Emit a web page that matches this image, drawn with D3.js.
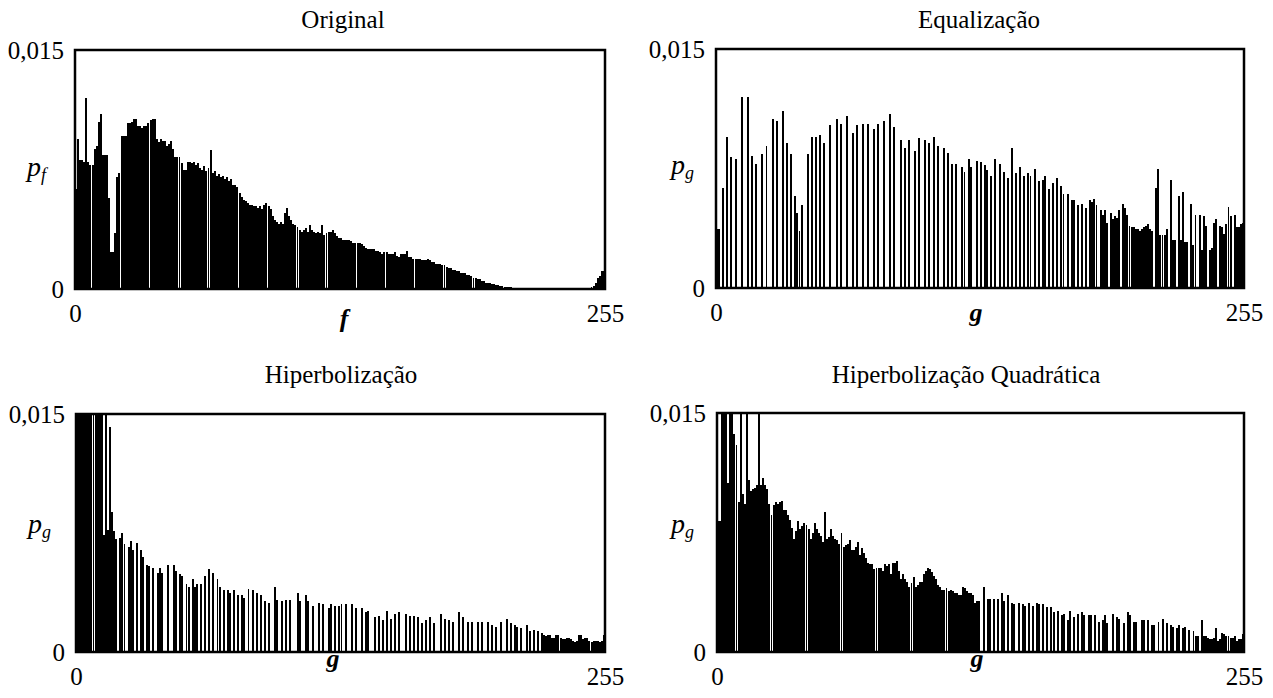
<!DOCTYPE html>
<html>
<head>
<meta charset="utf-8">
<script src="https://cdn.jsdelivr.net/npm/d3@7"></script>
<style>
  body { margin: 0; background: #fff; }
  text { font-family: "Liberation Serif", "DejaVu Serif", serif; fill: #000; }
</style>
</head>
<body>
<svg id="chart" width="1273" height="698"></svg>
<script>
// probabilities are written in units of 1e-3
const UNIT = 1e-3;

const titles = ["Original", "Equalização", "Hiperbolização", "Hiperbolização Quadrática"];
const xNames = ["f", "g", "g", "g"];
const yTickVals = [0, 0.015];
const xTickVals = [0, 255];

// Original: one value per grey level 0..255
const origP = [
  6.3, 9.4, 8.1, 8.1, 8.0, 12.0, 8.0, 7.8, 7.8, 8.8, 9.0, 10.5, 11.0, 8.4, 8.4, 8.4,
  5.7, 2.3, 2.3, 3.5, 7.0, 7.3, 9.6, 9.6, 9.6, 10.4, 10.4, 10.5, 10.7, 10.7, 10.2, 10.2,
  10.1, 10.2, 10.2, 10.4, 10.6, 10.7, 10.7, 9.4, 9.2, 9.4, 9.3, 9.3, 9.0, 9.1, 9.3, 8.8,
  8.3, 8.3, 8.3, 7.9, 7.5, 7.5, 8.0, 8.0, 7.9, 8.0, 7.8, 7.9, 7.6, 7.5, 7.7, 7.4,
  7.6, 8.7, 7.3, 7.4, 7.1, 7.2, 7.0, 7.1, 6.9, 7.0, 6.8, 6.9, 6.5, 6.5, 6.4, 6.0,
  5.8, 5.6, 5.5, 5.4, 5.3, 5.3, 5.2, 5.2, 5.1, 5.2, 5.0, 5.3, 5.4, 5.2, 5.0, 4.6,
  4.3, 4.2, 4.1, 4.2, 4.1, 4.8, 5.1, 4.6, 4.3, 4.1, 4.0, 3.9, 3.7, 3.6, 3.7, 3.8,
  3.6, 4.0, 3.7, 3.6, 3.5, 3.6, 3.5, 4.0, 3.4, 3.5, 3.6, 3.6, 3.7, 3.5, 3.3, 3.2,
  3.2, 3.1, 3.1, 3.1, 3.1, 3.0, 2.9, 2.9, 2.9, 2.9, 2.8, 2.7, 2.6, 2.5, 2.5, 2.5,
  2.5, 2.4, 2.4, 2.3, 2.2, 2.3, 2.3, 2.2, 2.2, 2.2, 2.3, 2.1, 2.0, 2.2, 2.2, 2.2,
  2.4, 2.0, 2.0, 1.9, 1.9, 1.9, 1.9, 1.8, 1.8, 1.8, 1.9, 1.8, 1.7, 1.7, 1.6, 1.6,
  1.6, 1.5, 1.5, 1.4, 1.3, 1.3, 1.2, 1.2, 1.1, 1.1, 1.0, 1.0, 1.0, 0.9, 0.9, 0.8,
  0.7, 0.7, 0.6, 0.6, 0.5, 0.5, 0.4, 0.4, 0.35, 0.3, 0.3, 0.25, 0.25, 0.2, 0.2, 0.15,
  0.15, 0.12, 0.1, 0.08, 0.03, 0.03, 0.03, 0.03, 0.03, 0, 0, 0, 0, 0, 0, 0,
  0, 0, 0, 0, 0, 0, 0, 0, 0, 0, 0, 0, 0, 0, 0, 0,
  0, 0, 0, 0, 0, 0, 0, 0, 0.05, 0.1, 0.2, 0.4, 0.7, 0.8, 1.1, 1.1
];

// Equalização: only occupied levels
const eqBins = [
  0, 1, 3, 5, 7, 9, 12, 15, 17, 19, 22, 24, 27, 29, 32, 34, 36, 38, 39, 40, 41,
  44, 46, 48, 50, 52, 55, 58, 60, 63, 66, 68, 71, 73, 76, 78, 81, 84, 86, 89, 91,
  93, 96, 98, 101, 103, 105, 107, 110, 112, 114, 116, 119, 120, 122, 123, 126, 128,
  130, 131, 133, 135, 137, 139, 141, 143, 145, 147, 149, 151, 152, 154, 156, 158,
  159, 161, 163, 165, 167, 168, 170, 172, 173, 175, 177, 179, 181, 182, 183, 184,
  186, 187, 188, 189, 191, 192, 193, 194, 195, 197, 198, 199, 200, 201, 202, 203,
  204, 205, 206, 207, 208, 209, 210, 211, 213, 214, 215, 216, 217, 218, 220, 221,
  222, 224, 225, 226, 227, 228, 230, 231, 232, 234, 235, 236, 237, 239, 240, 241,
  242, 244, 245, 246, 247, 248, 249, 251, 252, 253, 254, 255
];
const eqP = [
  3.7, 3.7, 6.3, 9.5, 8.2, 8.1, 12.0, 12.0, 8.3, 7.8, 8.4, 8.9, 10.6, 10.5, 11.1, 9.1, 8.4, 5.8, 4.7, 3.6, 5.2,
  8.4, 9.5, 9.5, 9.6, 9.1, 10.2, 10.6, 10.3, 10.8, 9.7, 10.2, 10.3, 10.3, 10.0, 10.3, 10.5, 10.9, 10.1, 9.3, 8.8,
  9.3, 8.6, 9.4, 9.3, 9.1, 9.5, 8.9, 8.8, 8.5, 7.8, 7.8, 7.6, 7.3, 8.1, 7.6, 8.0, 7.9,
  7.7, 7.4, 7.0, 8.1, 7.8, 7.3, 6.9, 8.8, 7.2, 7.6, 7.0, 7.2, 7.0, 7.5, 6.7, 6.8,
  7.0, 6.2, 6.6, 6.9, 6.4, 5.9, 5.9, 5.5, 5.5, 5.2, 5.3, 5.0, 5.5, 5.4, 5.6, 5.2,
  4.9, 4.6, 4.9, 4.1, 4.7, 4.3, 4.5, 4.4, 4.9, 5.3, 5.0, 4.6, 3.9, 3.8, 3.8, 3.7,
  3.7, 3.6, 3.7, 3.8, 3.9, 4.0, 3.7, 3.6, 6.3, 7.5, 3.3, 3.3, 3.3, 3.7, 6.8, 3.0,
  3.0, 5.8, 3.0, 6.0, 2.9, 2.9, 5.3, 2.7, 4.6, 4.6, 2.4, 4.5, 3.9, 2.4, 2.5, 4.1,
  4.3, 3.9, 3.8, 3.4, 4.0, 5.1, 4.5, 4.6, 3.8, 3.8, 4.0, 4.1
];

// Hiperbolização: only occupied levels (first levels run off the top)
const hypBins = [
  0, 1, 2, 3, 4, 5, 6, 7, 8, 9, 10, 11, 12, 13, 14, 15, 16, 17, 18, 19, 21, 22, 23,
  25, 26, 27, 29, 31, 32, 34, 35, 37, 39, 40, 41, 44, 47, 48, 50, 51, 53, 54, 56,
  57, 58, 60, 62, 64, 66, 68, 69, 71, 73, 74, 76, 78, 80, 81, 83, 85, 87, 89, 91,
  93, 96, 97, 99, 101, 103, 107, 108, 111, 112, 114, 117, 119, 122, 123, 125, 127,
  128, 130, 133, 135, 138, 140, 141, 144, 146, 148, 150, 152, 154, 156, 159, 161,
  163, 165, 167, 169, 171, 173, 176, 178, 180, 182, 185, 187, 189, 191, 194, 196,
  199, 201, 203, 205, 208, 210, 212, 213, 215, 218, 219, 221, 223, 225, 226, 227,
  228, 229, 230, 231, 232, 233, 234, 235, 236, 237, 238, 239, 240, 241, 242, 243,
  244, 245, 246, 247, 248, 249, 250, 251, 252, 253, 254, 255
];
const hypP = [
  16, 16, 16, 16, 16, 16, 16, 16, 16, 16, 16, 16, 16, 7.4, 16, 7.7, 14.2, 8.8, 7.6, 7.1, 7.2, 7.5, 6.8,
  6.6, 7.0, 6.4, 6.9, 6.4, 6.0, 5.5, 5.4, 5.3, 5.0, 5.3, 5.0, 5.5, 5.5, 5.1, 4.9, 4.8, 4.3, 4.1, 4.6,
  4.1, 4.3, 4.3, 4.8, 5.2, 5.0, 4.6, 4.1, 3.9, 3.9, 3.7, 3.9, 3.6, 3.6, 3.4, 4.0, 3.9, 3.7, 3.6, 3.2,
  3.1, 4.1, 3.3, 3.2, 3.3, 3.3, 3.7, 3.2, 3.6, 3.2, 2.9, 3.1, 3.0, 2.8, 3.0, 2.9, 2.9,
  3.0, 3.0, 3.0, 2.8, 2.8, 2.5, 2.6, 2.2, 2.3, 2.0, 2.6, 2.1, 2.4, 2.5, 2.4, 2.3,
  2.3, 2.2, 1.8, 2.0, 2.2, 1.8, 2.4, 2.1, 2.0, 1.9, 2.5, 2.2, 1.9, 1.9, 1.9, 1.9,
  1.9, 1.7, 1.6, 1.9, 2.1, 1.8, 1.7, 1.6, 1.5, 1.7, 1.3, 1.4, 1.3, 1.2, 1.1, 1.0,
  1.1, 1.1, 0.9, 0.9, 1.1, 1.1, 0.9, 0.8, 0.8, 0.9, 0.9, 0.8, 0.7, 0.6, 0.7, 1.1,
  1.1, 0.8, 0.9, 0.9, 0.7, 0.6, 0.7, 0.7, 0.7, 0.6, 0.7, 1.1
];

// Hiperbolização Quadrática: one value per level 0..255
const quadP = [
  8.2, 8.2, 16, 16, 16, 10.6, 16, 16, 13.7, 13.0, 9.4, 16, 9.9, 9.3, 16, 10.8,
  10.1, 10.2, 10.3, 10.5, 16, 10.5, 10.9, 10.5, 10.2, 9.3, 8.6, 9.2, 9.4, 9.3, 9.4, 9.5,
  8.9, 8.9, 8.6, 8.3, 7.8, 7.1, 7.6, 8.2, 7.7, 7.9, 8.1, 8.0, 7.7, 7.1, 7.5, 8.1,
  7.7, 7.5, 7.3, 6.9, 8.8, 7.1, 7.2, 7.7, 7.3, 7.1, 7.0, 6.8, 7.5, 6.6, 6.7, 6.8,
  7.0, 6.4, 6.4, 6.6, 6.9, 6.1, 6.5, 6.2, 5.9, 5.6, 5.5, 5.5, 5.2, 5.3, 5.3, 5.3,
  5.1, 5.5, 5.4, 5.5, 4.9, 5.6, 5.6, 5.7, 5.1, 4.6, 4.9, 4.6, 4.4, 4.1, 4.3, 4.7,
  4.1, 4.2, 4.4, 4.4, 4.9, 5.1, 5.3, 5.2, 5.0, 4.8, 4.6, 4.2, 4.1, 3.9, 3.9, 4.0,
  3.8, 3.9, 3.8, 3.7, 3.7, 3.6, 3.6, 4.1, 4.0, 3.8, 3.7, 3.7, 3.6, 3.1, 3.2, 3.2,
  0, 4.1, 0, 3.3, 3.3, 0, 3.3, 0, 3.3, 0, 3.7, 3.2, 0, 3.6, 0, 3.1,
  3.0, 0, 3.1, 0, 3.0, 2.9, 0, 3.1, 0, 2.9, 0, 3.1, 3.0, 0, 3.0, 0,
  2.8, 0, 2.8, 2.5, 0, 2.6, 0, 2.3, 2.4, 0, 2.0, 2.6, 0, 2.2, 0, 2.4,
  0, 2.5, 2.3, 0, 2.3, 2.3, 0, 2.3, 0, 1.9, 0, 2.0, 2.3, 1.8, 0, 0,
  2.4, 0, 2.2, 2.1, 0, 1.8, 0, 2.5, 2.3, 0, 1.9, 1.9, 0, 0, 2.0, 2.0,
  0, 2.0, 0, 1.7, 1.7, 0, 1.9, 0, 2.1, 0, 1.8, 0, 1.7, 1.6, 0, 1.5,
  1.7, 0, 1.5, 1.6, 0, 1.4, 0, 1.3, 1.0, 1.0, 0, 2.0, 1.0, 1.0, 0.9, 0.8,
  0.8, 0.9, 1.5, 0.7, 0.8, 1.2, 1.1, 1.0, 1.0, 0.9, 0.9, 1.0, 0.7, 0.8, 0.8, 1.1
];

function toSeries(bins, vals) {
  return bins.map((b, i) => ({ bin: b, p: vals[i] * UNIT }));
}
const denseSeries = vals => vals.map((v, i) => ({ bin: i, p: v * UNIT }));

// placement of the four boxes on the page
const panels = [
  { x0: 75,  x1: 605,  y0: 50,  y1: 289, data: denseSeries(origP),
    titleX: 343, titleY: 28, nameX: 344, nameY: 327, pX: 27, pY: 176 },
  { x0: 716, x1: 1244, y0: 49,  y1: 288, data: toSeries(eqBins, eqP),
    titleX: 979, titleY: 28, nameX: 976, nameY: 321, pX: 671, pY: 174 },
  { x0: 76,  x1: 605,  y0: 414, y1: 652, data: toSeries(hypBins, hypP),
    titleX: 341, titleY: 383, nameX: 333, nameY: 667, pX: 28, pY: 533 },
  { x0: 717, x1: 1244, y0: 413, y1: 652, data: denseSeries(quadP),
    titleX: 966, titleY: 383, nameX: 977, nameY: 667, pX: 671, pY: 533 }
];

const svg = d3.select("#chart");
const comma = d3.formatLocale({ decimal: ",", thousands: ".", grouping: [3], currency: ["", ""] }).format(".3f");

panels.forEach((pn, k) => {
  const g = svg.append("g");

  const x = d3.scaleLinear().domain([0, 256]).range([pn.x0, pn.x1]);
  const xLab = d3.scaleLinear().domain([0, 255]).range([pn.x0, pn.x1]);
  const y = d3.scaleLinear().domain([0, 0.015]).range([pn.y1, pn.y0]).clamp(true);

  // bars (a hair narrower than a bin, like the printed plot)
  g.append("g")
    .attr("shape-rendering", "crispEdges")
    .selectAll("rect")
    .data(pn.data.filter(d => d.p > 0))
    .join("rect")
      .attr("x", d => x(d.bin))
      .attr("width", d => x(d.bin + 1) - x(d.bin) - 0.1)
      .attr("y", d => y(d.p))
      .attr("height", d => pn.y1 - y(d.p))
      .attr("fill", "#000");

  // frame
  g.append("rect")
    .attr("x", pn.x0)
    .attr("y", pn.y0)
    .attr("width", pn.x1 - pn.x0)
    .attr("height", pn.y1 - pn.y0)
    .attr("fill", "none")
    .attr("stroke", "#000")
    .attr("stroke-width", 2.5);

  // axes: labels only
  const yAxis = d3.axisLeft(y)
    .tickValues(yTickVals)
    .tickSize(0)
    .tickPadding(11)
    .tickFormat(d => d === 0 ? "0" : comma(d));
  const gy = g.append("g").attr("transform", `translate(${pn.x0},0)`).call(yAxis);

  const xAxis = d3.axisBottom(xLab)
    .tickValues(xTickVals)
    .tickSize(0)
    .tickPadding(15);
  const gx = g.append("g").attr("transform", `translate(0,${pn.y1})`).call(xAxis);

  [gx, gy].forEach(a => {
    a.select(".domain").remove();
    a.selectAll("text")
      .style("font-family", '"Liberation Serif", "DejaVu Serif", serif')
      .style("font-size", "25px")
      .attr("fill", "#000");
  });

  // title
  g.append("text")
    .attr("x", pn.titleX)
    .attr("y", pn.titleY)
    .attr("text-anchor", "middle")
    .style("font-size", "25px")
    .text(titles[k]);

  // x variable name
  g.append("text")
    .attr("x", pn.nameX)
    .attr("y", pn.nameY)
    .attr("text-anchor", "middle")
    .style("font-size", "26px")
    .style("font-style", "italic")
    .style("font-weight", "bold")
    .text(xNames[k]);

  // p with subscript
  const pt = g.append("text")
    .attr("x", pn.pX)
    .attr("y", pn.pY)
    .style("font-size", "28px")
    .style("font-style", "italic");
  pt.append("tspan").text("p");
  pt.append("tspan")
    .attr("dy", 5)
    .style("font-size", "18px")
    .text(xNames[k]);
});
</script>
</body>
</html>
